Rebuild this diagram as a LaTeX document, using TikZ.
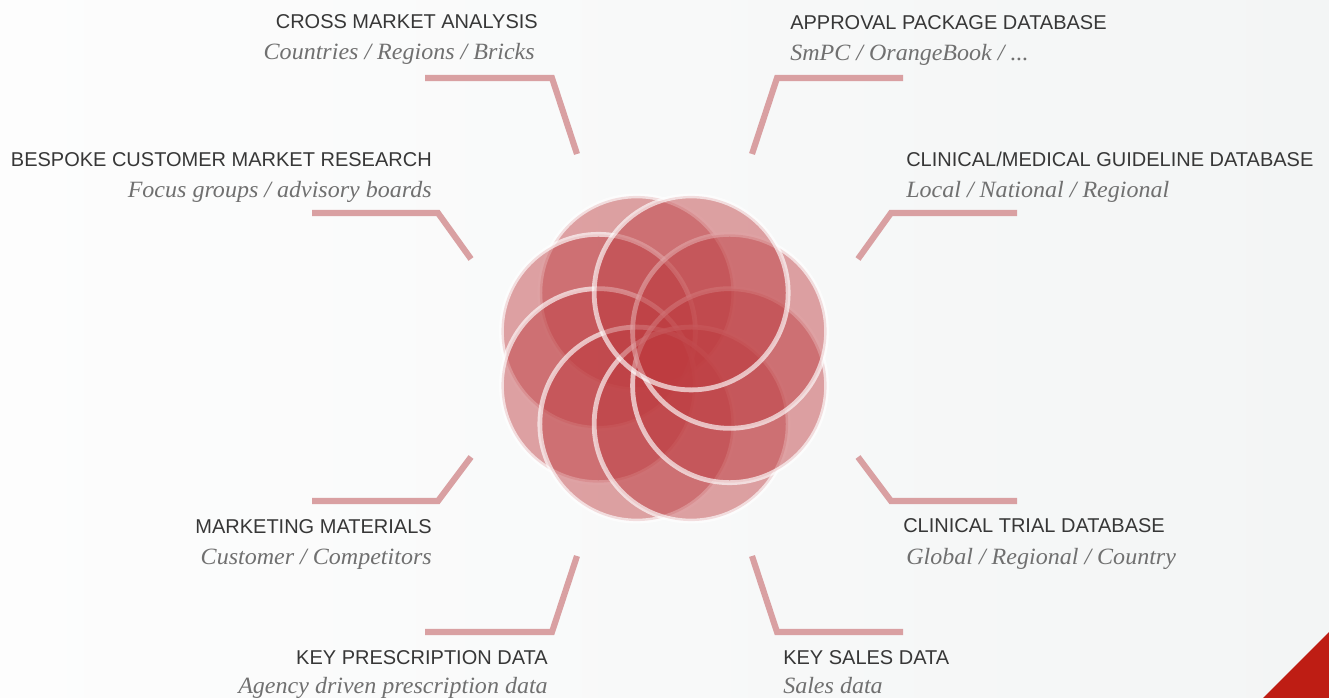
\documentclass[tikz,border=0pt]{standalone}
\usepackage{fontspec}
\setmainfont{Liberation Sans}
\newfontfamily\subf[FakeStretch=1.03]{Liberation Serif}
\usetikzlibrary{calc}
\definecolor{bgL}{RGB}{253,253,253}
\definecolor{bgR}{RGB}{243,245,245}
\definecolor{leader}{RGB}{217,160,162}
\definecolor{petal}{RGB}{190,60,64}
\definecolor{corner}{RGB}{190,29,20}
\definecolor{titlec}{RGB}{55,55,55}
\definecolor{subc}{RGB}{112,112,112}
\tikzset{
  ttl/.style={inner sep=0pt, text=titlec, font=\fontsize{15pt}{18pt}\selectfont},
  sub/.style={inner sep=0pt, text=subc, font=\subf\itshape\fontsize{17.5pt}{20pt}\selectfont},
  leaderline/.style={draw=leader, line width=4.6pt, line join=miter},
  petalfill/.style={fill=petal, fill opacity=0.47},
  petalring/.style={draw=white, line width=3.6pt, draw opacity=0.65}
}
\begin{document}
\begin{tikzpicture}[x=0.75pt,y=-0.75pt]
\useasboundingbox (0,0) rectangle (1329,698);
\shade[left color=bgL, right color=bgR] (0,0) rectangle (1329,698);
\fill[corner] (1263,698) -- (1329,632) -- (1329,698) -- cycle;

% rosette
\coordinate (C) at (664,358.5);
\foreach \a in {112.5,157.5,202.5,247.5,292.5,337.5,22.5,67.5} {
  \path[petalfill] ($(C)+(-\a:71)$) circle (72.75pt);
  \path[petalring] ($(C)+(-\a:71)$) circle (72.75pt);
}

% labels
\node[ttl, anchor=base east] (cmaT) at (538,29) {CROSS MARKET ANALYSIS};
\node[sub, anchor=base east] (cmaS) at (535,60) {Countries / Regions / Bricks};
\node[ttl, anchor=base east] (bespT) at (432,167) {BESPOKE CUSTOMER MARKET RESEARCH};
\node[sub, anchor=base east] (bespS) at (432,198) {Focus groups / advisory boards};
\node[ttl, anchor=base east] (mktT) at (432,534) {MARKETING MATERIALS};
\node[sub, anchor=base east] (mktS) at (432,565) {Customer / Competitors};
\node[ttl, anchor=base east] (kpT) at (548,664) {KEY PRESCRIPTION DATA};
\node[sub, anchor=base east] (kpS) at (548,693) {Agency driven prescription data};

\node[ttl, anchor=base west] (apprT) at (790,30) {APPROVAL PACKAGE DATABASE};
\node[sub, anchor=base west] (apprS) at (790,61) {SmPC / OrangeBook / ...};
\node[ttl, anchor=base west] (clinT) at (906,167) {CLINICAL/MEDICAL GUIDELINE DATABASE};
\node[sub, anchor=base west] (clinS) at (906,198) {Local / National / Regional};
\node[ttl, anchor=base west] (trialT) at (903,533) {CLINICAL TRIAL DATABASE};
\node[sub, anchor=base west] (trialS) at (906,565) {Global / Regional / Country};
\node[ttl, anchor=base west] (salesT) at (783,664) {KEY SALES DATA};
\node[sub, anchor=base west] (salesS) at (783,693) {Sales data};

% leader lines
\coordinate (cmaA) at (425,78);  \coordinate (cmaB) at (552,78);  \coordinate (cmaE) at (577,154);
\coordinate (apprA) at (903,78); \coordinate (apprB) at (777,78); \coordinate (apprE) at (752,154);
\coordinate (bespA) at (312,213); \coordinate (bespB) at (438,213); \coordinate (bespE) at (471,259);
\coordinate (clinA) at (1017,213); \coordinate (clinB) at (891,213); \coordinate (clinE) at (858,259);
\coordinate (mktA) at (312,501); \coordinate (mktB) at (438,501); \coordinate (mktE) at (471,457);
\coordinate (trialA) at (1017,501); \coordinate (trialB) at (891,501); \coordinate (trialE) at (858,457);
\coordinate (kpA) at (425,632); \coordinate (kpB) at (552,632); \coordinate (kpE) at (577,556);
\coordinate (salesA) at (903,632); \coordinate (salesB) at (777,632); \coordinate (salesE) at (752,556);
\foreach \n in {cma,appr,besp,clin,mkt,trial,kp,sales} {
  \draw[leaderline] (\n A) -- (\n B) -- (\n E);
}
\end{tikzpicture}
\end{document}
